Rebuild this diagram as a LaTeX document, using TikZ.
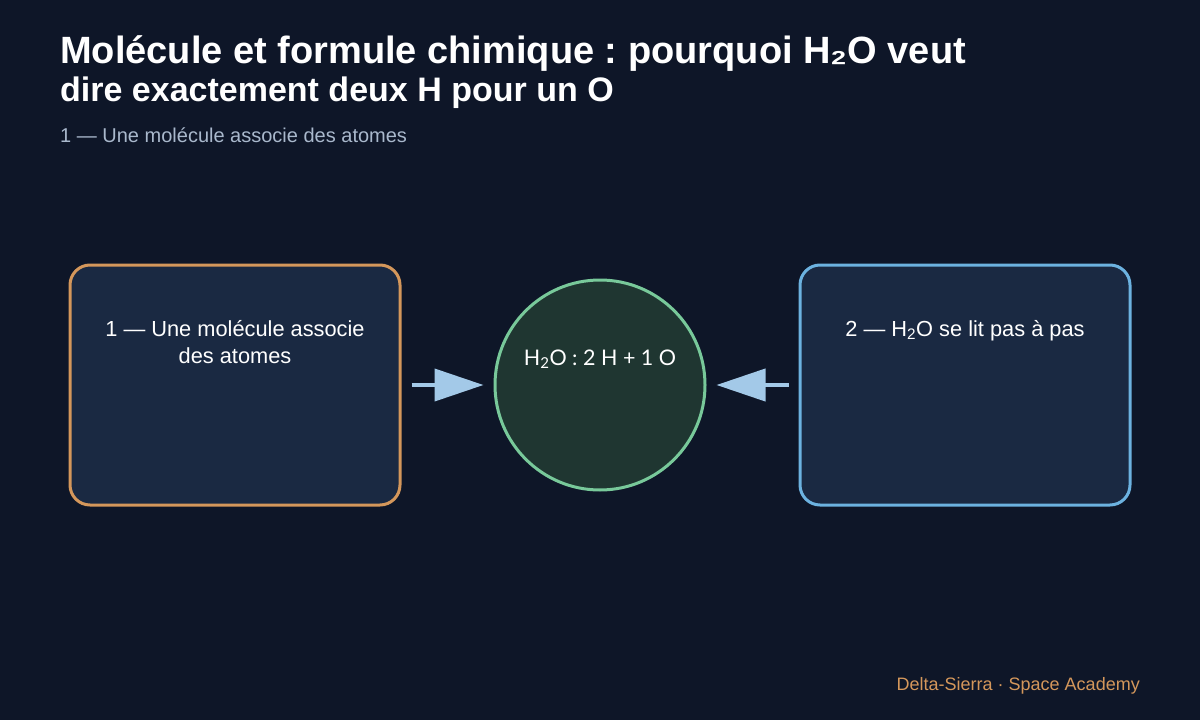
\documentclass[tikz,border=0pt]{standalone}
\usepackage{fontspec}
\setmainfont{Liberation Sans}
\newfontfamily\latofont{Lato}
\usetikzlibrary{arrows.meta}
\frenchspacing
\definecolor{bgcol}{HTML}{0E1628}
\definecolor{cardfill}{HTML}{1A2942}
\definecolor{orangecol}{HTML}{D4975B}
\definecolor{bluecol}{HTML}{6CB2E0}
\definecolor{greencol}{HTML}{78C99A}
\definecolor{circfill}{HTML}{1F3631}
\definecolor{arrowcol}{HTML}{A3C9E8}
\definecolor{subcol}{HTML}{A9B8CC}
\tikzstyle{card} = [draw,rounded corners=20pt,line width=3pt,fill=cardfill,minimum width=330pt,minimum height=240pt,inner sep=0pt]
\tikzstyle{cardtext} = [text=white,align=center,font=\fontsize{21.8}{27}\selectfont]
\tikzstyle{arrow} = [-{Triangle[length=49pt,width=32pt]},line width=4pt,draw=arrowcol,fill=arrowcol]

\begin{document}
\begin{tikzpicture}[x=1pt,y=-1pt]
        \fill[bgcol] (0,0) rectangle (1200,720);
        \useasboundingbox (0,0) rectangle (1200,720);
        % titles
        \node[anchor=base west,inner sep=0pt,text=white,font=\bfseries\fontsize{38}{42}\selectfont] (title) at (60,63) {Molécule et formule chimique : pourquoi H₂O veut};
        \node[anchor=base west,inner sep=0pt,text=white,font=\bfseries\fontsize{34}{38}\selectfont] (title2) at (60,101) {dire exactement deux H pour un O};
        \node[anchor=base west,inner sep=0pt,text=subcol,font=\fontsize{20}{24}\selectfont] (sub) at (60,142) {1 — Une molécule associe des atomes};

        \node[card,draw=orangecol] (atoms) at (235,385) {};
        \node[cardtext,anchor=base] (atomstext) at (235,363) {1 — Une molécule associe\\des atomes};
        \node[circle,draw=greencol,fill=circfill,line width=3pt,minimum size=210pt,inner sep=0pt] (water) at (600,385) {};
        \node[anchor=base,text=white,font=\latofont\fontsize{21.5}{25}\selectfont] (watertext) at (600,365) {H\textsubscript{2}O : 2 H + 1 O};
        \node[card,draw=bluecol] (reading) at (965,385) {};
        \node[cardtext,anchor=base] (readingtext) at (965,336) {2 — H\textsubscript{2}O se lit pas à pas};

        \draw[arrow,shorten <=10pt,shorten >=10pt] (atoms) -- (water);
        \draw[arrow,shorten <=10pt,shorten >=10pt] (reading) -- (water);

        \node[anchor=base east,inner sep=0pt,text=orangecol,font=\fontsize{18}{22}\selectfont] (credit) at (1140,690) {Delta-Sierra · Space Academy};
    \end{tikzpicture}
\end{document}
